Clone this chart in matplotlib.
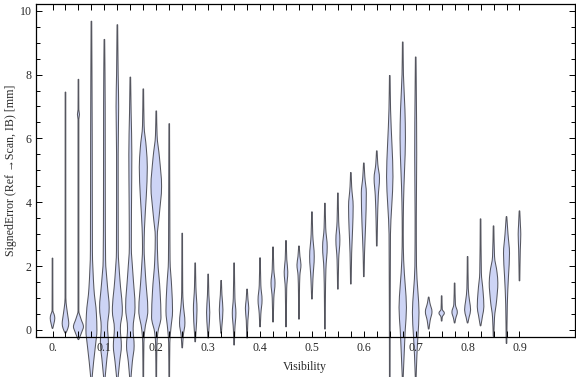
import matplotlib
matplotlib.use("Agg")
import matplotlib.pyplot as plt
from matplotlib.ticker import FixedLocator, MultipleLocator
from matplotlib.path import Path
from matplotlib.patches import PathPatch

# ---------------- data ----------------
visibility = [0.0, 0.025, 0.05, 0.075, 0.1, 0.125, 0.15, 0.175, 0.2, 0.225,
              0.25, 0.275, 0.3, 0.325, 0.35, 0.375, 0.4, 0.425, 0.45, 0.475,
              0.5, 0.525, 0.55, 0.575, 0.6, 0.625, 0.65, 0.675, 0.7, 0.725,
              0.75, 0.775, 0.8, 0.825, 0.85, 0.875, 0.9]

# per-violin density profile: (signed error [mm], relative density), top -> bottom
violin_profiles = [
    [(2.25, 0.3), (0.6, 0.4), (0.5, 1.5), (0.37, 2.3), (0.2, 1.4), (0.05, 0.3)],
    [(7.45, 0.3), (1.0, 0.4), (0.7, 1.2), (0.35, 2.8), (0.2, 3.3), (0.05, 2.4), (-0.1, 0.3)],
    [(7.85, 0.3), (6.9, 0.4), (6.75, 1.0), (6.6, 0.4), (0.6, 0.4), (0.35, 2.5), (0.1, 5.0), (-0.05, 3.5), (-0.3, 0.3)],
    [(9.67, 0.3), (6.0, 0.8), (2.5, 1.0), (1.3, 2.5), (0.5, 5.0), (0.0, 5.5), (-0.5, 4.0), (-1.0, 2.2), (-1.6, 0.4)],
    [(9.1, 0.3), (7.0, 0.8), (4.0, 0.9), (2.2, 1.2), (1.4, 3.0), (0.7, 4.8), (0.1, 3.2), (-0.4, 4.0), (-0.9, 2.5), (-1.6, 0.4)],
    [(9.56, 0.3), (8.0, 0.8), (7.0, 1.3), (5.5, 0.8), (2.5, 0.9), (1.6, 2.5), (0.6, 5.0), (0.05, 3.0), (-0.5, 4.0), (-1.0, 2.3), (-1.6, 0.4)],
    [(7.92, 0.3), (6.8, 0.8), (5.5, 1.5), (4.0, 1.2), (2.6, 1.0), (1.8, 2.5), (0.7, 4.7), (0.05, 2.8), (-0.5, 3.8), (-1.0, 2.0), (-1.6, 0.4)],
    [(7.55, 0.3), (6.4, 0.8), (5.7, 3.0), (5.1, 4.0), (4.2, 3.0), (3.2, 1.2), (2.6, 0.8), (1.7, 2.2), (0.6, 4.5), (0.0, 1.5), (-0.4, 0.6), (-1.6, 0.3)],
    [(6.86, 0.3), (6.1, 0.8), (5.4, 3.2), (4.5, 5.3), (3.6, 3.0), (2.9, 1.0), (2.2, 1.5), (1.2, 3.8), (0.4, 4.7), (-0.1, 1.5), (-0.5, 0.6), (-1.6, 0.3)],
    [(6.46, 0.3), (3.5, 0.6), (2.2, 0.8), (1.3, 2.5), (0.6, 3.3), (0.0, 1.5), (-0.4, 0.6), (-1.6, 0.3)],
    [(3.03, 0.3), (1.2, 0.5), (0.85, 1.0), (0.22, 2.7), (-0.2, 1.0), (-0.56, 0.3)],
    [(2.1, 0.3), (1.35, 0.7), (0.63, 1.8), (-0.1, 0.7), (-0.37, 0.3)],
    [(1.75, 0.3), (1.1, 0.7), (0.55, 1.6), (0.0, 0.7), (-0.25, 0.3)],
    [(1.55, 0.3), (1.1, 0.8), (0.63, 1.8), (0.1, 0.7), (-0.1, 0.3)],
    [(2.1, 0.3), (1.0, 0.8), (0.53, 1.8), (0.0, 0.7), (-0.47, 0.3)],
    [(1.28, 0.3), (0.95, 0.9), (0.68, 1.7), (0.3, 0.8), (-0.25, 0.3)],
    [(2.26, 0.3), (1.4, 0.8), (0.94, 2.0), (0.5, 0.8), (0.1, 0.3)],
    [(2.6, 0.3), (1.9, 0.8), (1.47, 2.0), (1.0, 0.8), (0.25, 0.3)],
    [(2.8, 0.3), (2.2, 0.8), (1.82, 1.8), (1.3, 0.7), (0.1, 0.3)],
    [(2.63, 0.3), (2.3, 1.0), (2.04, 2.0), (1.7, 0.9), (1.2, 0.5), (0.34, 0.3)],
    [(3.7, 0.3), (3.0, 0.8), (2.3, 2.3), (1.6, 1.0), (0.97, 0.3)],
    [(3.97, 0.3), (3.2, 0.8), (2.6, 2.3), (1.9, 1.0), (1.0, 0.5), (0.03, 0.3)],
    [(4.29, 0.3), (3.4, 0.8), (2.82, 2.0), (2.2, 0.8), (1.28, 0.3)],
    [(4.93, 0.3), (4.5, 0.8), (3.87, 2.3), (3.2, 1.8), (2.4, 0.8), (1.44, 0.3)],
    [(5.23, 0.3), (4.8, 1.0), (4.29, 2.5), (3.3, 1.8), (2.4, 0.7), (1.67, 0.3)],
    [(5.61, 0.3), (5.2, 1.0), (4.75, 2.7), (4.2, 1.5), (3.4, 0.7), (2.63, 0.3)],
    [(7.97, 0.3), (6.9, 0.8), (5.8, 2.2), (4.8, 3.2), (3.9, 2.0), (3.0, 0.7), (-1.6, 0.3)],
    [(9.02, 0.3), (8.0, 0.7), (6.9, 2.2), (6.0, 2.7), (5.0, 1.8), (4.0, 0.8), (3.0, 0.5), (2.2, 0.9), (1.4, 2.5), (0.7, 3.7), (0.0, 2.5), (-0.7, 1.5), (-1.6, 0.3)],
    [(8.55, 0.3), (7.5, 0.6), (5.5, 1.0), (3.5, 0.6), (2.0, 0.8), (1.2, 2.2), (0.55, 3.3), (-0.2, 2.2), (-0.8, 1.2), (-1.6, 0.3)],
    [(1.03, 0.3), (0.85, 1.2), (0.57, 3.3), (0.3, 1.5), (0.03, 0.3)],
    [(1.07, 0.3), (0.65, 0.6), (0.53, 2.7), (0.4, 0.6), (0.28, 0.3)],
    [(1.47, 0.3), (0.8, 0.8), (0.56, 2.7), (0.35, 1.0), (0.22, 0.3)],
    [(2.3, 0.3), (1.3, 0.7), (0.9, 2.0), (0.63, 3.0), (0.4, 1.5), (0.22, 0.3)],
    [(3.48, 0.3), (1.8, 0.8), (1.2, 2.5), (0.73, 3.3), (0.45, 2.0), (0.13, 0.3)],
    [(3.26, 0.3), (2.3, 1.0), (1.8, 3.5), (1.47, 4.3), (0.9, 3.0), (0.4, 1.0), (-0.2, 0.3)],
    [(3.55, 0.3), (3.0, 1.5), (2.4, 3.0), (1.7, 2.0), (0.8, 0.8), (-0.42, 0.3)],
    [(3.73, 0.3), (3.3, 0.9), (3.0, 1.3), (2.5, 0.8), (1.54, 0.3)],
]

xtick_labels = {0.0: "0.", 0.1: "0.1", 0.2: "0.2", 0.3: "0.3", 0.4: "0.4",
                0.5: "0.5", 0.6: "0.6", 0.7: "0.7", 0.8: "0.8", 0.9: "0.9"}
ytick_values = [0, 2, 4, 6, 8, 10]

# ---------------- style ----------------
plt.rcParams["font.family"] = ["Liberation Serif", "DejaVu Serif"]
FS = 8.6
fill_col = "#cdd4f5"
edge_col = "#55565f"
text_col = "#2a2a2a"

W, H = 576, 377
fig = plt.figure(figsize=(W / 100, H / 100), dpi=100)
left_px, right_px, top_px, bottom_px = 36, 575, 4, 337
ax = fig.add_axes([left_px / W, (H - bottom_px) / H,
                   (right_px - left_px) / W, (bottom_px - top_px) / H])
x0, x1 = -0.0318, 1.007
ax.set_xlim(x0, x1)
ax.set_ylim(-0.22, 10.21)

px_per_unit = (right_px - left_px) / (x1 - x0)


def hermite_slopes(ys, ws):
    """Monotone (Fritsch-Carlson) slopes dw/dy for a shape-preserving outline."""
    n = len(ys)
    h = [ys[k + 1] - ys[k] for k in range(n - 1)]
    dl = [(ws[k + 1] - ws[k]) / h[k] for k in range(n - 1)]
    d = [0.0] * n
    d[0], d[-1] = dl[0], dl[-1]
    for k in range(1, n - 1):
        if dl[k - 1] * dl[k] <= 0:
            d[k] = 0.0
        else:
            w1 = 2 * h[k] + h[k - 1]
            w2 = h[k] + 2 * h[k - 1]
            d[k] = (w1 + w2) / (w1 / dl[k - 1] + w2 / dl[k])
    return d


def side_segments(pos, sign, ys, ws, d):
    verts, codes = [], []
    for k in range(len(ys) - 1):
        h = ys[k + 1] - ys[k]
        c1 = (pos + sign * (ws[k] + d[k] * h / 3), ys[k] + h / 3)
        c2 = (pos + sign * (ws[k + 1] - d[k + 1] * h / 3), ys[k + 1] - h / 3)
        p2 = (pos + sign * ws[k + 1], ys[k + 1])
        verts += [c1, c2, p2]
        codes += [Path.CURVE4] * 3
    return verts, codes


def violin_path(pos, prof):
    ys = [p[0] for p in prof]
    ws = [p[1] / px_per_unit for p in prof]
    d = hermite_slopes(ys, ws)
    verts = [(pos + ws[0], ys[0])]
    codes = [Path.MOVETO]
    v, c = side_segments(pos, +1, ys, ws, d)
    verts += v
    codes += c
    ys_r, ws_r, d_r = ys[::-1], ws[::-1], d[::-1]
    verts.append((pos - ws_r[0], ys_r[0]))
    codes.append(Path.LINETO)
    v, c = side_segments(pos, -1, ys_r, ws_r, d_r)
    verts += v
    codes += c
    verts.append((pos + ws[0], ys[0]))
    codes.append(Path.CLOSEPOLY)
    return Path(verts, codes)


for pos, prof in zip(visibility, violin_profiles):
    patch = PathPatch(violin_path(pos, prof), facecolor=fill_col,
                      edgecolor=edge_col, linewidth=0.75, clip_on=False,
                      zorder=1)
    ax.add_patch(patch)

# ticks
ax.xaxis.set_major_locator(FixedLocator(visibility))
ax.set_xticklabels([xtick_labels.get(round(v, 3), "") for v in visibility])
ax.yaxis.set_major_locator(FixedLocator(ytick_values))
ax.yaxis.set_minor_locator(MultipleLocator(0.5))
ax.tick_params(axis="both", which="both", direction="in", top=True, right=True,
               colors="black", labelcolor=text_col, labelsize=FS, width=0.7)
ax.tick_params(axis="x", which="major", length=4, pad=3.5)
ax.tick_params(axis="y", which="major", length=4.5, pad=3)
ax.tick_params(axis="y", which="minor", length=2.8)

for s in ax.spines.values():
    s.set_linewidth(0.9)
    s.set_color("black")

ax.set_xlabel("Visibility", fontsize=FS, color=text_col)
ax.xaxis.set_label_coords(0.498, -0.072)
ax.set_ylabel("SignedError (Ref \u2192Scan, IB) [mm]", fontsize=FS, color=text_col)
ax.yaxis.set_label_coords(-0.036, 0.5)

fig.savefig("out.png", dpi=100)
